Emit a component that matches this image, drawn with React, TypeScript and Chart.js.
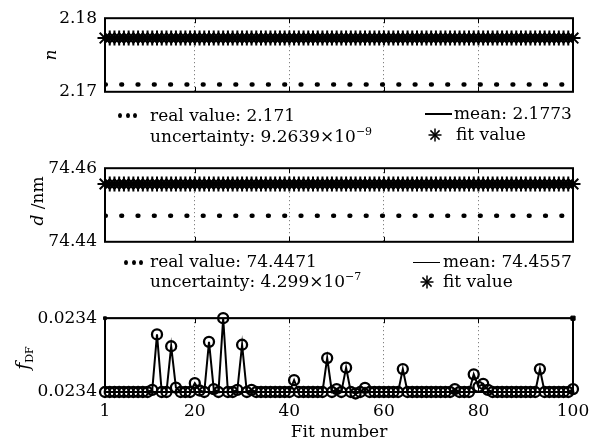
import React, { useEffect, useRef } from "react";
import { Chart, registerables } from "chart.js";

Chart.register(...registerables);

const FONT = "'DejaVu Serif', serif";

// ---------- data ----------
const fitNumbers = Array.from({ length: 100 }, (_, i) => i + 1);
const xTickValues = [1, 20, 40, 60, 80, 100];
const xGridValues = [20, 40, 60, 80];
const xTitle = "Fit number";

// refractive index n
const nFitValues = [
  2.1773, 2.1773, 2.1773, 2.1773, 2.1773, 2.1773, 2.1773, 2.1773, 2.1773, 2.1773,
  2.1773, 2.1773, 2.1773, 2.1773, 2.1773, 2.1773, 2.1773, 2.1773, 2.1773, 2.1773,
  2.1773, 2.1773, 2.1773, 2.1773, 2.1773, 2.1773, 2.1773, 2.1773, 2.1773, 2.1773,
  2.1773, 2.1773, 2.1773, 2.1773, 2.1773, 2.1773, 2.1773, 2.1773, 2.1773, 2.1773,
  2.1773, 2.1773, 2.1773, 2.1773, 2.1773, 2.1773, 2.1773, 2.1773, 2.1773, 2.1773,
  2.1773, 2.1773, 2.1773, 2.1773, 2.1773, 2.1773, 2.1773, 2.1773, 2.1773, 2.1773,
  2.1773, 2.1773, 2.1773, 2.1773, 2.1773, 2.1773, 2.1773, 2.1773, 2.1773, 2.1773,
  2.1773, 2.1773, 2.1773, 2.1773, 2.1773, 2.1773, 2.1773, 2.1773, 2.1773, 2.1773,
  2.1773, 2.1773, 2.1773, 2.1773, 2.1773, 2.1773, 2.1773, 2.1773, 2.1773, 2.1773,
  2.1773, 2.1773, 2.1773, 2.1773, 2.1773, 2.1773, 2.1773, 2.1773, 2.1773, 2.1773,
];
const nMean = 2.1773;
const nReal = 2.171;
const nTickValues = [2.17, 2.18];
const nTickLabels = ["2.17", "2.18"];

// thickness d (nm)
const dFitValues = [
  74.4557, 74.4557, 74.4557, 74.4557, 74.4557, 74.4557, 74.4557, 74.4557, 74.4557, 74.4557,
  74.4557, 74.4557, 74.4557, 74.4557, 74.4557, 74.4557, 74.4557, 74.4557, 74.4557, 74.4557,
  74.4557, 74.4557, 74.4557, 74.4557, 74.4557, 74.4557, 74.4557, 74.4557, 74.4557, 74.4557,
  74.4557, 74.4557, 74.4557, 74.4557, 74.4557, 74.4557, 74.4557, 74.4557, 74.4557, 74.4557,
  74.4557, 74.4557, 74.4557, 74.4557, 74.4557, 74.4557, 74.4557, 74.4557, 74.4557, 74.4557,
  74.4557, 74.4557, 74.4557, 74.4557, 74.4557, 74.4557, 74.4557, 74.4557, 74.4557, 74.4557,
  74.4557, 74.4557, 74.4557, 74.4557, 74.4557, 74.4557, 74.4557, 74.4557, 74.4557, 74.4557,
  74.4557, 74.4557, 74.4557, 74.4557, 74.4557, 74.4557, 74.4557, 74.4557, 74.4557, 74.4557,
  74.4557, 74.4557, 74.4557, 74.4557, 74.4557, 74.4557, 74.4557, 74.4557, 74.4557, 74.4557,
  74.4557, 74.4557, 74.4557, 74.4557, 74.4557, 74.4557, 74.4557, 74.4557, 74.4557, 74.4557,
];
const dMean = 74.4557;
const dReal = 74.4471;
const dTickValues = [74.44, 74.46];
const dTickLabels = ["74.44", "74.46"];

// f_DF, expressed relative to the axis span (0 = lower limit, 1 = upper limit)
const fdfValues = [
  0, 0, 0, 0, 0, 0, 0, 0, 0, 0,
  0.03, 0.78, 0, 0, 0.62, 0.06, 0, 0, 0, 0.12,
  0.02, 0, 0.68, 0.04, 0, 1.0, 0, 0, 0.03, 0.64,
  0, 0.03, 0, 0, 0, 0, 0, 0, 0, 0,
  0.16, 0, 0, 0, 0, 0, 0, 0.46, 0, 0.04,
  0, 0.33, 0, -0.02, 0, 0.055, 0, 0, 0, 0,
  0, 0, 0, 0.31, 0, 0, 0, 0, 0, 0,
  0, 0, 0, 0, 0.04, 0, 0, 0, 0.24, 0.07,
  0.11, 0.03, 0, 0, 0, 0, 0, 0, 0, 0,
  0, 0, 0.31, 0, 0, 0, 0, 0, 0, 0.04,
];
const fdfLimitX = [100, 100, 1];
const fdfLimitY = [0.04, 1, 1];
const fdfTickValues = [0, 1];
const fdfTickLabels = ["0.0234", "0.0234"];

// ---------- helpers ----------
const framePlugin = {
  id: "frame",
  beforeDatasetsDraw(chart: any) {
    const { ctx, chartArea: a, scales } = chart;
    const xs = scales.x;
    ctx.save();
    ctx.strokeStyle = "#000";
    ctx.lineWidth = 1;
    for (const v of xGridValues) {
      const px = Math.round(xs.getPixelForValue(v)) + 0.5;
      ctx.beginPath();
      ctx.moveTo(px, a.top);
      ctx.lineTo(px, a.top + 5);
      ctx.moveTo(px, a.bottom);
      ctx.lineTo(px, a.bottom - 5);
      ctx.stroke();
    }
    ctx.lineWidth = 2;
    ctx.strokeRect(a.left, a.top, a.right - a.left, a.bottom - a.top);
    ctx.restore();
  },
};

function makeConfig(o: any) {
  const font = { family: FONT, size: 17 };
  return {
    type: "scatter",
    data: { datasets: o.datasets },
    options: {
      animation: false,
      responsive: false,
      events: [],
      layout: { padding: { top: o.topPad, right: 27, left: 0, bottom: 0 }, autoPadding: false },
      plugins: { legend: { display: false }, tooltip: { enabled: false } },
      scales: {
        x: {
          type: "linear",
          position: "bottom",
          min: 1,
          max: 100,
          afterBuildTicks: (s: any) => {
            s.ticks = xTickValues.map((v) => ({ value: v }));
          },
          afterFit: (s: any) => {
            s.height = o.xAxisHeight;
          },
          grid: {
            display: true,
            drawTicks: false,
            lineWidth: 1,
            color: (c: any) =>
              c.tick && xGridValues.includes(c.tick.value) ? "#666" : "rgba(0,0,0,0)",
          },
          border: { display: false, dash: [1, 3] },
          ticks: {
            display: !!o.showXLabels,
            padding: 9,
            color: "#000",
            font,
            maxRotation: 0,
            autoSkip: false,
            callback: (v: any) => String(v),
          },
          title: o.showXLabels
            ? { display: true, text: xTitle, color: "#000", font, padding: { top: 0, bottom: 4 } }
            : { display: false },
        },
        y: {
          type: "linear",
          min: o.yMin,
          max: o.yMax,
          afterBuildTicks: (s: any) => {
            s.ticks = o.yTicks.map((v: number) => ({ value: v }));
          },
          afterFit: (s: any) => {
            s.width = 105;
          },
          grid: { display: false, drawTicks: false },
          border: { display: false },
          ticks: {
            padding: 8,
            color: "#000",
            font,
            autoSkip: false,
            callback: (_v: any, i: number) => o.yLabels[i],
          },
        },
      },
    },
    plugins: [framePlugin],
  };
}

function paramDatasets(fit: number[], mean: number, real: number) {
  return [
    {
      label: "fit value",
      data: fitNumbers.map((x, i) => ({ x, y: fit[i] })),
      showLine: false,
      pointStyle: "star",
      pointRadius: 7.5,
      pointBorderWidth: 2,
      borderColor: "#000",
      backgroundColor: "#000",
      clip: false,
    },
    {
      label: "mean",
      data: [
        { x: fitNumbers[0], y: mean },
        { x: fitNumbers[fitNumbers.length - 1], y: mean },
      ],
      showLine: true,
      borderColor: "#000",
      borderWidth: 3,
      pointRadius: 0,
    },
    {
      label: "real value",
      data: [
        { x: fitNumbers[0], y: real },
        { x: fitNumbers[fitNumbers.length - 1], y: real },
      ],
      showLine: true,
      borderColor: "#000",
      borderWidth: 4.5,
      borderDash: [0.8, 15.5],
      borderCapStyle: "round",
      pointRadius: 0,
    },
  ];
}

const txt: any = {
  position: "absolute",
  fontFamily: FONT,
  fontSize: 17,
  lineHeight: "20px",
  whiteSpace: "nowrap",
  color: "#000",
};

const supStyle: any = { fontSize: 11, verticalAlign: "baseline", position: "relative", top: -7 };

function Dots({ x, y }: { x: number; y: number }) {
  return (
    <>
      {[0, 7.5, 15].map((d) => (
        <div
          key={d}
          style={{
            position: "absolute",
            left: x + d - 2,
            top: y - 2.5,
            width: 4,
            height: 5,
            borderRadius: "50%",
            background: "#000",
          }}
        />
      ))}
    </>
  );
}

function Star({ x, y }: { x: number; y: number }) {
  const r = 6.5;
  const d = r * Math.SQRT1_2;
  return (
    <svg
      width={16}
      height={16}
      style={{ position: "absolute", left: x - 8, top: y - 8 }}
      viewBox="-8 -8 16 16"
    >
      <g stroke="#000" strokeWidth={1.5}>
        <line x1={0} y1={-r} x2={0} y2={r} />
        <line x1={-r} y1={0} x2={r} y2={0} />
        <line x1={-d} y1={-d} x2={d} y2={d} />
        <line x1={-d} y1={d} x2={d} y2={-d} />
      </g>
    </svg>
  );
}

function Dash({ x, y, w }: { x: number; y: number; w: number }) {
  return (
    <div style={{ position: "absolute", left: x, top: y - 0.75, width: w, height: 1.5, background: "#000" }} />
  );
}

function YTitle({ cx, cy, children }: any) {
  return (
    <div
      style={{
        ...txt,
        left: cx,
        top: cy,
        transform: "translate(-50%, -50%) rotate(-90deg)",
      }}
    >
      {children}
    </div>
  );
}

export default function App() {
  const r1 = useRef<HTMLCanvasElement>(null);
  const r2 = useRef<HTMLCanvasElement>(null);
  const r3 = useRef<HTMLCanvasElement>(null);

  useEffect(() => {
    const c1 = new Chart(
      r1.current as any,
      makeConfig({
        datasets: paramDatasets(nFitValues, nMean, nReal),
        yMin: nTickValues[0],
        yMax: nTickValues[1],
        yTicks: nTickValues,
        yLabels: nTickLabels,
        topPad: 15,
        xAxisHeight: 12,
        showXLabels: false,
      }) as any
    );
    const c2 = new Chart(
      r2.current as any,
      makeConfig({
        datasets: paramDatasets(dFitValues, dMean, dReal),
        yMin: dTickValues[0],
        yMax: dTickValues[1],
        yTicks: dTickValues,
        yLabels: dTickLabels,
        topPad: 12,
        xAxisHeight: 16,
        showXLabels: false,
      }) as any
    );
    const c3 = new Chart(
      r3.current as any,
      makeConfig({
        datasets: [
          {
            label: "fDF",
            data: fitNumbers.map((x, i) => ({ x, y: fdfValues[i] })),
            showLine: true,
            borderColor: "#000",
            borderWidth: 2,
            pointStyle: "circle",
            pointRadius: 5,
            pointBorderWidth: 2.3,
            pointBorderColor: "#000",
            pointBackgroundColor: "rgba(0,0,0,0)",
            clip: false,
          },
          {
            label: "limits",
            data: fdfLimitX.map((x, i) => ({ x, y: fdfLimitY[i] })),
            showLine: true,
            borderColor: "#000",
            borderWidth: 1.5,
            pointStyle: "rect",
            pointRadius: [0, 3, 2],
            pointBorderWidth: 1,
            pointBorderColor: "#000",
            pointBackgroundColor: "#000",
            clip: false,
          },
        ],
        yMin: fdfTickValues[0],
        yMax: fdfTickValues[1],
        yTicks: fdfTickValues,
        yLabels: fdfTickLabels,
        topPad: 13,
        xAxisHeight: 55,
        showXLabels: true,
      }) as any
    );
    return () => {
      c1.destroy();
      c2.destroy();
      c3.destroy();
    };
  }, []);

  return (
    <div
      style={{
        position: "fixed",
        left: 0,
        top: 0,
        width: 600,
        height: 447,
        background: "#fff",
        overflow: "hidden",
      }}
    >
      <canvas ref={r1} width={600} height={110} style={{ position: "absolute", left: 0, top: 0 }} />
      <canvas ref={r2} width={600} height={110} style={{ position: "absolute", left: 0, top: 150 }} />
      <canvas ref={r3} width={600} height={147} style={{ position: "absolute", left: 0, top: 300 }} />

      {/* y-axis titles */}
      <YTitle cx={50} cy={55}>
        <i>n</i>
      </YTitle>
      <YTitle cx={37} cy={201}>
        <i>d</i> /nm
      </YTitle>
      <YTitle cx={24} cy={358}>
        <i style={{ fontSize: 19 }}>f</i>
        <span style={{ fontSize: 11, verticalAlign: "baseline", position: "relative", top: 4 }}>DF</span>
      </YTitle>

      {/* legend: top panel */}
      <Dots x={120} y={115} />
      <div style={{ ...txt, left: 150, top: 104.6 }}>real value: 2.171</div>
      <div style={{ ...txt, left: 150, top: 125.8 }}>
        uncertainty: 9.2639×10<span style={supStyle}>−9</span>
      </div>
      <Dash x={425} y={114} w={27} />
      <div style={{ ...txt, left: 454, top: 103.4 }}>mean: 2.1773</div>
      <Star x={435} y={135} />
      <div style={{ ...txt, left: 456, top: 124 }}>fit value</div>

      {/* legend: middle panel */}
      <Dots x={126} y={262.7} />
      <div style={{ ...txt, left: 150, top: 251.4 }}>real value: 74.4471</div>
      <div style={{ ...txt, left: 150, top: 271.4 }}>
        uncertainty: 4.299×10<span style={supStyle}>−7</span>
      </div>
      <Dash x={413} y={262.5} w={27} />
      <div style={{ ...txt, left: 443, top: 251.4 }}>mean: 74.4557</div>
      <Star x={427} y={281.5} />
      <div style={{ ...txt, left: 443, top: 271.4 }}>fit value</div>
    </div>
  );
}
